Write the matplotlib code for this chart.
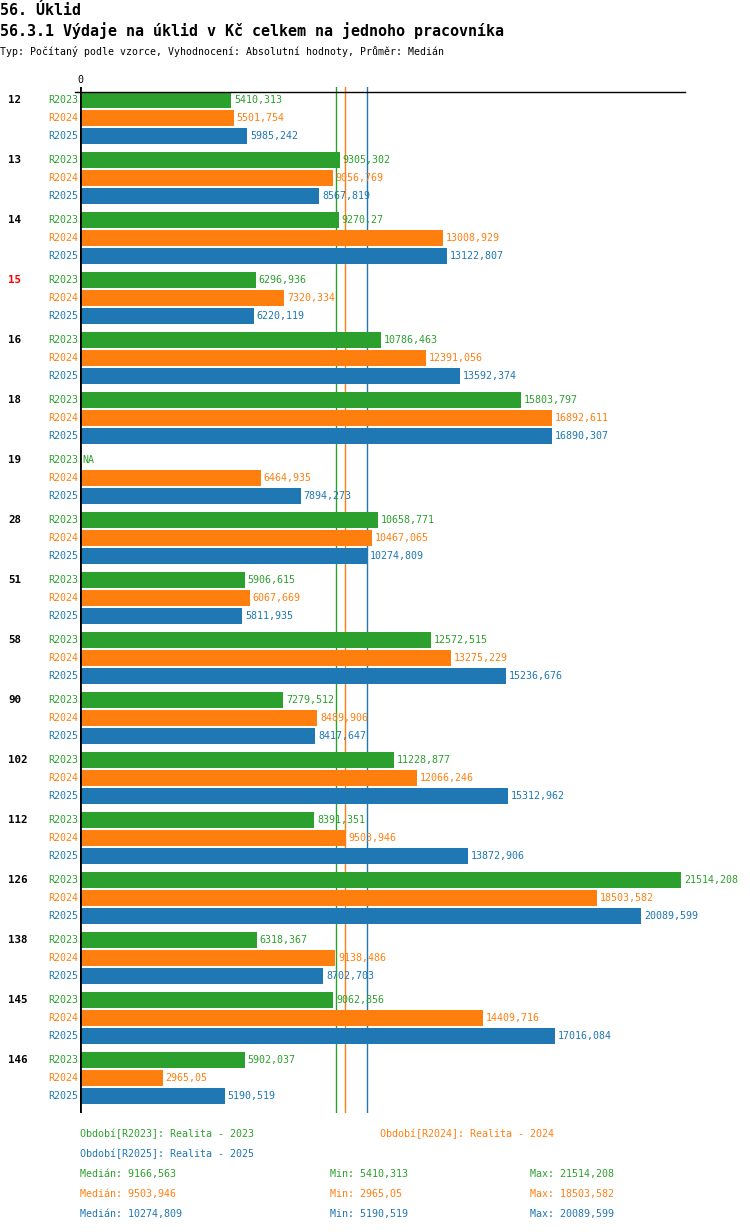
import numpy as np
import matplotlib.pyplot as plt
from matplotlib.transforms import blended_transform_factory

groups = ["12", "13", "14", "15", "16", "18", "19", "28", "51", "58", "90",
          "102", "112", "126", "138", "145", "146"]
highlight = ["15"]
series = ["R2023", "R2024", "R2025"]
colors = ["#2ca02c", "#ff7f0e", "#1f77b4"]
legend_names = ["Realita - 2023", "Realita - 2024", "Realita - 2025"]

r2023 = [5410.313, 9305.302, 9270.27, 6296.936, 10786.463, 15803.797, np.nan,
         10658.771, 5906.615, 12572.515, 7279.512, 11228.877, 8391.351,
         21514.208, 6318.367, 9062.856, 5902.037]
r2024 = [5501.754, 9056.769, 13008.929, 7320.334, 12391.056, 16892.611, 6464.935,
         10467.065, 6067.669, 13275.229, 8489.906, 12066.246, 9503.946,
         18503.582, 9138.486, 14409.716, 2965.05]
r2025 = [5985.242, 8567.819, 13122.807, 6220.119, 13592.374, 16890.307, 7894.273,
         10274.809, 5811.935, 15236.676, 8417.647, 15312.962, 13872.906,
         20089.599, 8702.703, 17016.084, 5190.519]
values = [r2023, r2024, r2025]


def fmt(v):
    s = f"{v:.3f}".rstrip("0").rstrip(".")
    return s.replace(".", ",")


mono = "DejaVu Sans Mono"
fs = 7.2

W, H = 750, 1232
fig = plt.figure(figsize=(W / 100, H / 100), dpi=100)
x0, x1 = 80, 685
ytop, ybot = 87, 1113
ax = fig.add_axes([x0 / W, 1 - ybot / H, (x1 - x0) / W, (ybot - ytop) / H])
xmax = 21514.208 * (x1 - x0) / 601
ax.set_xlim(0, xmax)
ax.set_ylim(ybot - 100, ytop - 100)
ax.axis("off")

group_pitch, row_pitch, bar_h = 60, 18, 16
lab_tr = blended_transform_factory(fig.transFigure, ax.transData)

for g, name in enumerate(groups):
    base = g * group_pitch
    ax.text(8 / W, base, name, transform=lab_tr, fontsize=7.8, family=mono,
            fontweight="bold", color="red" if name in highlight else "black",
            va="center", ha="left")
    for k, s in enumerate(series):
        y = base + k * row_pitch
        v = values[k][g]
        ax.text(78 / W, y, s, transform=lab_tr, fontsize=fs, family=mono,
                color=colors[k], va="center", ha="right")
        if np.isnan(v):
            ax.annotate("NA", (0, y), xytext=(2, 0), textcoords="offset points",
                        fontsize=fs, family=mono, color=colors[k], va="center")
            continue
        ax.barh(y, v, height=bar_h, color=colors[k], linewidth=0, zorder=2)
        ax.annotate(fmt(v), (v, y), xytext=(2, 0), textcoords="offset points",
                    fontsize=fs, family=mono, color=colors[k], va="center",
                    annotation_clip=False, zorder=3)

medians = [np.nanmedian(v) for v in values]
mins = [np.nanmin(v) for v in values]
maxs = [np.nanmax(v) for v in values]
for k in range(3):
    ax.axvline(medians[k], color=colors[k], lw=1, zorder=1)

ax.axvline(0, color="black", lw=2, zorder=4)
ax.axhline(92 - 100, xmin=-5 / (x1 - x0), xmax=1, color="black", lw=1,
           clip_on=False, zorder=4)
fig.text(80 / W, 1 - 80 / H, "0", fontsize=fs, family=mono, ha="center", va="center")

# headers
fig.text(0, 1 - 15 / H, "56. Úklid", fontsize=10.8, family=mono, fontweight="bold",
         va="baseline", ha="left")
fig.text(0, 1 - 36 / H, "56.3.1 Výdaje na úklid v Kč celkem na jednoho pracovníka",
         fontsize=10.8, family=mono, fontweight="bold", va="baseline", ha="left")
fig.text(0, 1 - 55 / H,
         "Typ: Počítaný podle vzorce, Vyhodnocení: Absolutní hodnoty, Průměr: Medián",
         fontsize=7.1, family=mono, va="baseline", ha="left")

# footer
leg_pos = [(80, 1134), (380, 1134), (80, 1154)]
for k in range(3):
    fig.text(leg_pos[k][0] / W, 1 - leg_pos[k][1] / H,
             f"Období[{series[k]}]: {legend_names[k]}", fontsize=fs, family=mono,
             color=colors[k], va="center")
for k in range(3):
    yy = 1 - (1174 + 20 * k) / H
    fig.text(80 / W, yy, f"Medián: {fmt(medians[k])}", fontsize=fs, family=mono,
             color=colors[k], va="center")
    fig.text(330 / W, yy, f"Min: {fmt(mins[k])}", fontsize=fs, family=mono,
             color=colors[k], va="center")
    fig.text(530 / W, yy, f"Max: {fmt(maxs[k])}", fontsize=fs, family=mono,
             color=colors[k], va="center")

fig.savefig("out.png", dpi=100)
